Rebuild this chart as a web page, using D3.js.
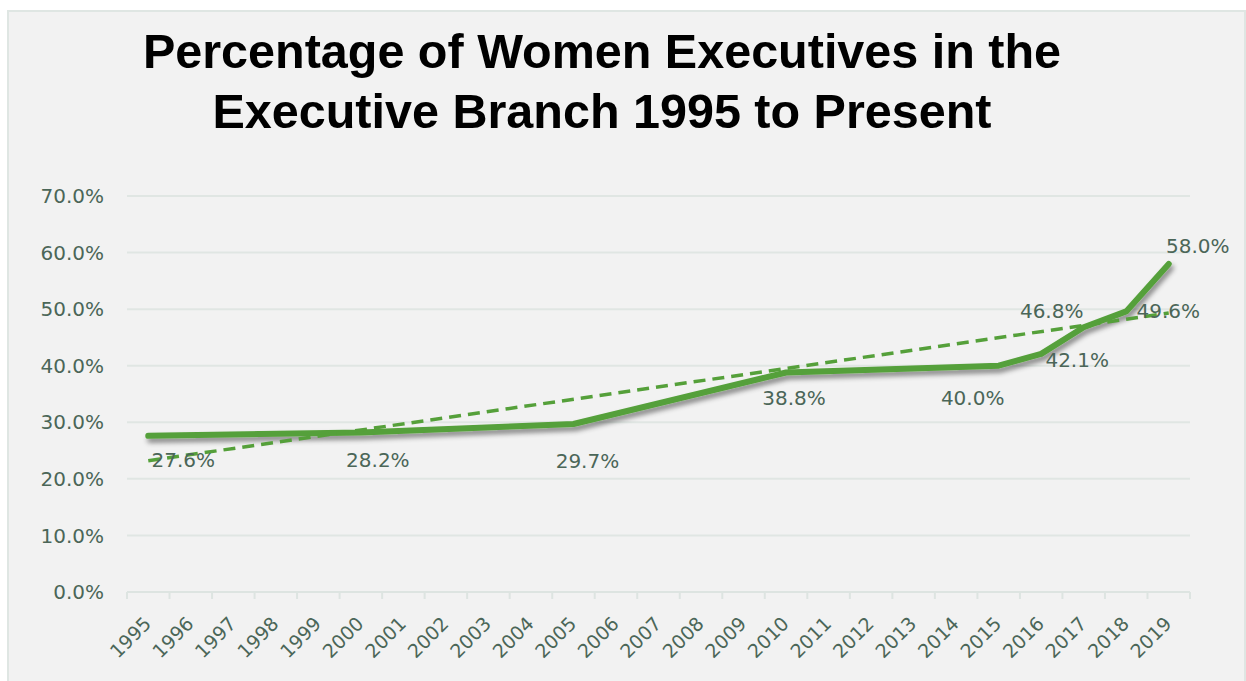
<!DOCTYPE html>
<html lang="en">
<head>
<meta charset="UTF-8">
<title>Percentage of Women Executives in the Executive Branch 1995 to Present</title>
<style>
  html, body { margin: 0; background: #ffffff; }
  text { font-family: 'DejaVu Sans', sans-serif; fill: #4b6658; }
  .title { font-family: 'Liberation Sans', Arial, sans-serif; font-weight: 700; fill: #000; }
  .grid line { stroke: #e0e6e3; stroke-width: 2px; }
  .xaxis line, .xaxis path { stroke: #dde4e1; stroke-width: 2px; }
  .line { fill: none; stroke: #55a03a; stroke-width: 6px; stroke-linecap: round; stroke-linejoin: round; }
  .trend { fill: none; stroke: #55a03a; stroke-width: 3.5px; stroke-dasharray: 12 7; }
</style>
</head>
<body>
<svg id="chart" width="1246" height="681" viewBox="0 0 1246 681"></svg>
<script src="https://d3js.org/d3.v7.min.js"></script>
<script>
// ---- data ----
const years = ["1995","1996","1997","1998","1999","2000","2001","2002","2003","2004","2005","2006",
  "2007","2008","2009","2010","2011","2012","2013","2014","2015","2016","2017","2018","2019"];
const pctYears  = ["1995","2000","2005","2010","2015","2016","2017","2018","2019"];
const pctValues = [27.6, 28.2, 29.7, 38.8, 40.0, 42.1, 46.8, 49.6, 58.0];
const trendYears  = ["1995","2019"];
const trendValues = [23.2, 49.3];
const yTicks = [0, 10, 20, 30, 40, 50, 60, 70];
const titleLines = ["Percentage of Women Executives in the", "Executive Branch 1995 to Present"];

// label nudges in px from each point (Excel labels were dragged by hand)
const labelNudge = [[35,31],[17,35],[14,44],[8,32],[-26,39],[36,13],[-32,-9],[42,7],[29,-11]];

const svg = d3.select("#chart");
const W = 1246, H = 681;
const plot = {left: 127, right: 1190, top: 196, bottom: 592};

// panel
svg.append("rect")
  .attr("x", 8).attr("y", 11).attr("width", W - 9).attr("height", H - 10)
  .attr("fill", "#f2f2f2").attr("stroke", "#dfe6e3").attr("stroke-width", 2);

// shadow for the main line
const defs = svg.append("defs");
defs.append("filter").attr("id", "shadow")
  .attr("x", "-10%").attr("y", "-30%").attr("width", "120%").attr("height", "160%")
  .append("feDropShadow")
  .attr("dx", 2).attr("dy", 4).attr("stdDeviation", 2.5)
  .attr("flood-color", "#000").attr("flood-opacity", 0.45);

// title
const title = svg.append("g");
titleLines.forEach((t, i) => {
  title.append("text")
    .attr("class", "title")
    .attr("x", 602).attr("y", 68 + i * 60)
    .attr("text-anchor", "middle")
    .attr("font-size", 48.5)
    .text(t);
});

const x = d3.scaleBand().domain(years).range([plot.left, plot.right]).padding(0);
const y = d3.scaleLinear().domain([0, 70]).range([plot.bottom, plot.top]);
const cx = d => x(d) + x.bandwidth() / 2;

// gridlines
svg.append("g").attr("class", "grid")
  .selectAll("line").data(yTicks.filter(d => d > 0)).join("line")
  .attr("x1", plot.left).attr("x2", plot.right)
  .attr("y1", d => y(d)).attr("y2", d => y(d));

// y tick labels
svg.append("g")
  .selectAll("text").data(yTicks).join("text")
  .attr("x", 104).attr("y", d => y(d)).attr("dy", "0.36em")
  .attr("text-anchor", "end").attr("font-size", 20)
  .text(d => d3.format(".1f")(d) + "%");

// x axis with ticks between categories
const xAxis = svg.append("g").attr("class", "xaxis");
xAxis.append("line")
  .attr("x1", plot.left).attr("x2", plot.right)
  .attr("y1", plot.bottom).attr("y2", plot.bottom);
xAxis.selectAll("line.tick").data(years.concat(["end"])).join("line")
  .attr("class", "tick")
  .attr("x1", (d, i) => plot.left + i * x.bandwidth())
  .attr("x2", (d, i) => plot.left + i * x.bandwidth())
  .attr("y1", plot.bottom).attr("y2", plot.bottom + 7);
xAxis.selectAll("text").data(years).join("text")
  .attr("transform", d => "translate(" + (cx(d) + 4) + "," + 625 + ") rotate(-45)")
  .attr("text-anchor", "end").attr("font-size", 19)
  .text(d => d);

// trendline and series
const trend = trendYears.map((d, i) => ({year: d, value: trendValues[i]}));
const pts = pctYears.map((d, i) => ({year: d, value: pctValues[i]}));
const line = d3.line().x(d => cx(d.year)).y(d => y(d.value));

svg.append("path").datum(pts)
  .attr("class", "line").attr("filter", "url(#shadow)")
  .attr("d", line);

svg.append("path").datum(trend)
  .attr("class", "trend")
  .attr("d", line);

// data labels
svg.append("g")
  .selectAll("text").data(pts).join("text")
  .attr("x", (d, i) => cx(d.year) + labelNudge[i][0])
  .attr("y", (d, i) => y(d.value) + labelNudge[i][1])
  .attr("text-anchor", "middle").attr("font-size", 20)
  .text(d => d3.format(".1f")(d.value) + "%");
</script>
</body>
</html>
